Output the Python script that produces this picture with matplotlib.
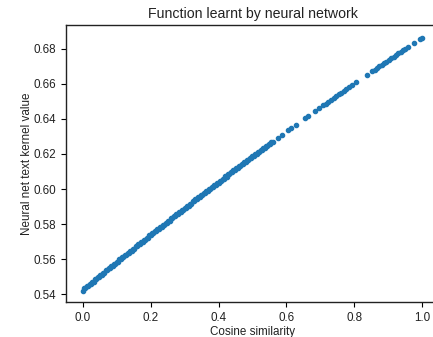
import matplotlib
matplotlib.use("Agg")
import matplotlib.pyplot as plt

plt.rcParams['font.family'] = ['Liberation Sans', 'DejaVu Sans']

# Cosine similarity (x) and network output (y)
cos_sim = [
    0.000, 0.008, 0.016, 0.024, 0.032, 0.040, 0.048, 0.056, 0.064, 0.072,
    0.080, 0.088, 0.096, 0.104, 0.112, 0.120, 0.128, 0.136, 0.144, 0.152,
    0.160, 0.168, 0.176, 0.184, 0.192, 0.200, 0.208, 0.216, 0.224, 0.232,
    0.240, 0.248, 0.256, 0.264, 0.272, 0.280, 0.288, 0.296, 0.304, 0.312,
    0.320, 0.328, 0.336, 0.344, 0.352, 0.360, 0.368, 0.376, 0.384, 0.392,
    0.400, 0.408, 0.416, 0.424, 0.432, 0.440, 0.448, 0.456, 0.464, 0.472,
    0.480, 0.488, 0.496, 0.504, 0.512, 0.520, 0.528, 0.536, 0.544, 0.552,
    0.560,
    0.576, 0.588, 0.606, 0.615, 0.629, 0.656, 0.665, 0.685, 0.697, 0.709,
    0.716, 0.724, 0.731, 0.739, 0.746, 0.754, 0.762, 0.770, 0.777, 0.785,
    0.794, 0.806, 0.838, 0.853,
    0.860, 0.867, 0.874, 0.881, 0.888, 0.895, 0.902, 0.909, 0.916, 0.923,
    0.930, 0.937, 0.944, 0.951, 0.958, 0.977, 0.994, 1.000,
]
kernel_val = [
    0.5420, 0.5433, 0.5446, 0.5458, 0.5471, 0.5484, 0.5497, 0.5509, 0.5522, 0.5535,
    0.5547, 0.5560, 0.5573, 0.5585, 0.5598, 0.5610, 0.5623, 0.5635, 0.5648, 0.5660,
    0.5673, 0.5685, 0.5698, 0.5710, 0.5722, 0.5735, 0.5747, 0.5759, 0.5771, 0.5784,
    0.5796, 0.5808, 0.5820, 0.5832, 0.5845, 0.5857, 0.5869, 0.5881, 0.5893, 0.5905,
    0.5917, 0.5929, 0.5941, 0.5953, 0.5965, 0.5977, 0.5989, 0.6001, 0.6012, 0.6024,
    0.6036, 0.6048, 0.6060, 0.6071, 0.6083, 0.6095, 0.6106, 0.6118, 0.6130, 0.6141,
    0.6153, 0.6164, 0.6176, 0.6188, 0.6199, 0.6211, 0.6222, 0.6233, 0.6245, 0.6256,
    0.6268,
    0.6293, 0.6310, 0.6336, 0.6348, 0.6368, 0.6406, 0.6418, 0.6446, 0.6462, 0.6479,
    0.6488, 0.6499, 0.6509, 0.6520, 0.6529, 0.6540, 0.6551, 0.6562, 0.6571, 0.6582,
    0.6594, 0.6610, 0.6653, 0.6673,
    0.6682, 0.6691, 0.6701, 0.6710, 0.6719, 0.6728, 0.6737, 0.6747, 0.6756, 0.6765,
    0.6774, 0.6783, 0.6792, 0.6801, 0.6810, 0.6835, 0.6856, 0.6864,
]

# extra samples filling the dense stretch below 0.56
cos_sim_fill = [
    0.004, 0.012, 0.020, 0.028, 0.036, 0.044, 0.052, 0.060, 0.068, 0.076,
    0.084, 0.092, 0.100, 0.108, 0.116, 0.124, 0.132, 0.140, 0.148, 0.156,
    0.164, 0.172, 0.180, 0.188, 0.196, 0.204, 0.212, 0.220, 0.228, 0.236,
    0.244, 0.252, 0.260, 0.268, 0.276, 0.284, 0.292, 0.300, 0.308, 0.316,
    0.324, 0.332, 0.340, 0.348, 0.356, 0.364, 0.372, 0.380, 0.388, 0.396,
    0.404, 0.412, 0.420, 0.428, 0.436, 0.444, 0.452, 0.460, 0.468, 0.476,
    0.484, 0.492, 0.500, 0.508, 0.516, 0.524, 0.532, 0.540, 0.548, 0.556,
]
kernel_val_fill = [
    0.5433, 0.5446, 0.5458, 0.5471, 0.5484, 0.5497, 0.5509, 0.5522, 0.5535, 0.5547,
    0.5560, 0.5573, 0.5585, 0.5598, 0.5610, 0.5623, 0.5635, 0.5648, 0.5660, 0.5673,
    0.5685, 0.5698, 0.5710, 0.5722, 0.5735, 0.5747, 0.5759, 0.5771, 0.5784, 0.5796,
    0.5808, 0.5820, 0.5832, 0.5845, 0.5857, 0.5869, 0.5881, 0.5893, 0.5905, 0.5917,
    0.5929, 0.5941, 0.5953, 0.5965, 0.5977, 0.5989, 0.6001, 0.6013, 0.6024, 0.6036,
    0.6048, 0.6060, 0.6072, 0.6083, 0.6095, 0.6107, 0.6118, 0.6130, 0.6142, 0.6153,
    0.6165, 0.6176, 0.6188, 0.6200, 0.6211, 0.6223, 0.6234, 0.6245, 0.6257, 0.6268,
]

fig = plt.figure(figsize=(4.33, 3.37), dpi=100)
ax = fig.add_axes([0.152, 0.104, 0.862, 0.822])

ax.scatter(cos_sim + cos_sim_fill, kernel_val + kernel_val_fill, s=9, color='#1f77b4')

ax.set_xlim(-0.05, 1.05)
ax.set_ylim(0.5355, 0.6937)
ax.set_xticks([0.0, 0.2, 0.4, 0.6, 0.8, 1.0])
ax.set_yticks([0.54, 0.56, 0.58, 0.60, 0.62, 0.64, 0.66, 0.68])

txt = '#222222'
ax.set_title("Function learnt by neural network", fontsize=10.2, color=txt, pad=5)
ax.set_xlabel("Cosine similarity", fontsize=8.4, color=txt, labelpad=1.5)
ax.set_ylabel("Neural net text kernel value", fontsize=8.4, color=txt, labelpad=0)
ax.tick_params(labelsize=8.4, labelcolor=txt, length=3.5)
for sp in ax.spines.values():
    sp.set_linewidth(1.0)
    sp.set_color('#222222')

fig.savefig("out.png", dpi=100)
